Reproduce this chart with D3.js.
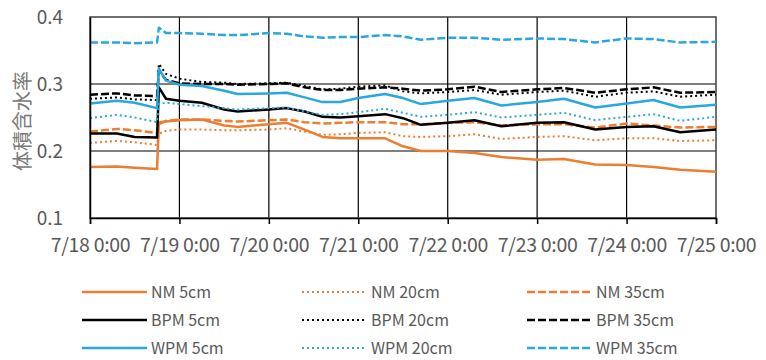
<!DOCTYPE html>
<html>
<head>
<meta charset="utf-8">
<script src="https://cdn.jsdelivr.net/npm/d3@7"></script>
<style>
  body { margin: 0; background: #fff; }
  text { font-family: "Noto Sans CJK JP", "Noto Sans", sans-serif; fill: #595959; }
</style>
</head>
<body>
<div id="chart"></div>
<script>
// days since 7/18 0:00
var days = [0, 0.3, 0.5, 0.75, 0.77, 0.85, 1.0, 1.25, 1.5, 1.65, 2.0, 2.2, 2.4, 2.6, 2.8,
            3.0, 3.3, 3.5, 3.7, 4.0, 4.3, 4.6, 5.0, 5.3, 5.65, 6.0, 6.3, 6.6, 7.0];

var nm5   = [0.176, 0.177, 0.175, 0.173, 0.243, 0.244, 0.246, 0.247, 0.238, 0.236, 0.240, 0.242, 0.232, 0.221, 0.219,
             0.219, 0.219, 0.207, 0.200, 0.200, 0.197, 0.191, 0.187, 0.188, 0.180, 0.179, 0.176, 0.172, 0.169];
var nm20  = [0.212, 0.215, 0.213, 0.209, 0.226, 0.230, 0.232, 0.232, 0.231, 0.231, 0.232, 0.234, 0.229, 0.224, 0.225,
             0.227, 0.228, 0.222, 0.221, 0.222, 0.225, 0.218, 0.221, 0.222, 0.216, 0.219, 0.219, 0.215, 0.216];
var nm35  = [0.229, 0.233, 0.231, 0.227, 0.240, 0.245, 0.247, 0.247, 0.245, 0.244, 0.246, 0.247, 0.243, 0.241, 0.242,
             0.243, 0.243, 0.240, 0.240, 0.242, 0.243, 0.238, 0.240, 0.240, 0.235, 0.241, 0.238, 0.235, 0.236];
var bpm5  = [0.226, 0.226, 0.221, 0.220, 0.295, 0.278, 0.275, 0.272, 0.262, 0.259, 0.262, 0.264, 0.259, 0.251, 0.250,
             0.252, 0.255, 0.249, 0.239, 0.242, 0.246, 0.237, 0.242, 0.243, 0.232, 0.236, 0.237, 0.228, 0.232];
var bpm20 = [0.278, 0.280, 0.277, 0.276, 0.330, 0.315, 0.308, 0.303, 0.302, 0.300, 0.301, 0.302, 0.297, 0.292, 0.293,
             0.296, 0.298, 0.289, 0.286, 0.288, 0.291, 0.284, 0.288, 0.290, 0.281, 0.287, 0.289, 0.281, 0.284];
var bpm35 = [0.284, 0.286, 0.283, 0.282, 0.320, 0.306, 0.301, 0.300, 0.300, 0.299, 0.300, 0.301, 0.295, 0.291, 0.291,
             0.293, 0.295, 0.293, 0.290, 0.292, 0.296, 0.288, 0.292, 0.294, 0.287, 0.292, 0.295, 0.287, 0.288];
var wpm5  = [0.271, 0.275, 0.272, 0.264, 0.323, 0.305, 0.299, 0.297, 0.290, 0.285, 0.286, 0.287, 0.280, 0.273, 0.273,
             0.279, 0.285, 0.279, 0.270, 0.275, 0.279, 0.268, 0.273, 0.278, 0.265, 0.271, 0.276, 0.265, 0.269];
var wpm20 = [0.249, 0.254, 0.250, 0.243, 0.270, 0.272, 0.270, 0.267, 0.264, 0.262, 0.264, 0.265, 0.259, 0.254, 0.255,
             0.258, 0.263, 0.257, 0.251, 0.254, 0.258, 0.250, 0.254, 0.257, 0.246, 0.251, 0.255, 0.245, 0.251];
var wpm35 = [0.362, 0.362, 0.361, 0.362, 0.384, 0.376, 0.376, 0.375, 0.373, 0.373, 0.376, 0.375, 0.371, 0.369, 0.370,
             0.370, 0.373, 0.371, 0.366, 0.369, 0.369, 0.366, 0.368, 0.367, 0.362, 0.368, 0.367, 0.362, 0.363];

var seriesNames = ["NM 5cm", "NM 20cm", "NM 35cm", "BPM 5cm", "BPM 20cm", "BPM 35cm", "WPM 5cm", "WPM 20cm", "WPM 35cm"];
var seriesValues = [nm5, nm20, nm35, bpm5, bpm20, bpm35, wpm5, wpm20, wpm35];
var yTicks = [0.1, 0.2, 0.3, 0.4];

var colors = ["#ED7D31", "#ED7D31", "#ED7D31", "#000000", "#000000", "#000000", "#29A8E0", "#29A8E0", "#29A8E0"];
// solid / dotted / dashed per depth
var styles = [
    { width: 2.5, dash: null },
    { width: 2, dash: "2,3" },
    { width: 2.5, dash: "8,3" }
];

var svgWidth = 766;
var svgHeight = 360;

var margin = { top: 17, right: 50, bottom: 142, left: 90 };
var chartWidth = svgWidth - margin.left - margin.right;
var chartHeight = svgHeight - margin.top - margin.bottom;

var svg = d3.select("#chart")
    .append("svg")
    .attr("width", svgWidth)
    .attr("height", svgHeight);

var chartGroup = svg.append("g")
    .attr("transform", `translate(${margin.left}, ${margin.top})`);

var start = new Date(2020, 6, 18);
var toDate = d => new Date(start.getTime() + d * 86400000);

var xTimeScale = d3.scaleTime()
    .domain([start, toDate(7)])
    .range([0, chartWidth]);

var yLinearScale = d3.scaleLinear()
    .domain([0.1, 0.4])
    .range([chartHeight, 0]);

// gridlines
chartGroup.selectAll(".hgrid")
    .data(yTicks.slice(1, 3))
    .enter()
    .append("line")
    .attr("x1", 0)
    .attr("x2", chartWidth)
    .attr("y1", d => yLinearScale(d))
    .attr("y2", d => yLinearScale(d))
    .attr("stroke", "#000")
    .attr("stroke-width", 1.2);

var dayTicks = d3.range(0, 8).map(toDate);

chartGroup.selectAll(".vgrid")
    .data(dayTicks.slice(1, 7))
    .enter()
    .append("line")
    .attr("x1", d => xTimeScale(d))
    .attr("x2", d => xTimeScale(d))
    .attr("y1", 0)
    .attr("y2", chartHeight)
    .attr("stroke", "#000")
    .attr("stroke-width", 1.2);

// plot border
chartGroup.append("rect")
    .attr("x", 0)
    .attr("y", 0)
    .attr("width", chartWidth)
    .attr("height", chartHeight)
    .attr("fill", "none")
    .attr("stroke", "#404040")
    .attr("stroke-width", 1.5);

// lines
var line = d3.line()
    .x((d, i) => xTimeScale(toDate(days[i])))
    .y(d => yLinearScale(d));

seriesValues.forEach(function(vals, i) {
    var st = styles[i % 3];
    chartGroup.append("path")
      .datum(vals)
      .attr("d", line)
      .attr("fill", "none")
      .attr("stroke", colors[i])
      .attr("stroke-width", st.width)
      .attr("stroke-dasharray", st.dash)
      .attr("stroke-linejoin", "round");
});

// axes
var bottomAxis = d3.axisBottom(xTimeScale)
    .tickValues(dayTicks)
    .tickSize(6)
    .tickFormat(d3.timeFormat("%-m/%-d %-H:%M"));

var xAxisGroup = chartGroup.append("g")
    .attr("transform", `translate(0, ${chartHeight})`)
    .call(bottomAxis);
xAxisGroup.select(".domain").attr("stroke", "#000").attr("stroke-width", 1.5);
xAxisGroup.selectAll(".tick line").attr("stroke", "#000").attr("stroke-width", 1.5);
xAxisGroup.selectAll(".tick text")
    .attr("y", 20)
    .style("font-size", "19.5px")
    .style("letter-spacing", "-0.3px")
    .attr("fill", "#595959");

var leftAxis = d3.axisLeft(yLinearScale)
    .tickValues(yTicks)
    .tickSize(0)
    .tickPadding(27)
    .tickFormat(d3.format(".1f"));

var yAxisGroup = chartGroup.append("g").call(leftAxis);
yAxisGroup.select(".domain").attr("stroke", "#000").attr("stroke-width", 1.5);
yAxisGroup.selectAll(".tick text")
    .style("font-size", "19px")
    .attr("fill", "#595959");

svg.append("text")
    .attr("transform", `translate(30, 121) rotate(-90)`)
    .attr("text-anchor", "middle")
    .style("font-size", "20px")
    .style("fill", "#7a7a7a")
    .text("体積含水率");

// legend
var legendCols = [82, 302, 527];
var legendRows = [292, 320, 348];

seriesNames.forEach(function(name, i) {
    var col = i % 3;
    var row = Math.floor(i / 3);
    var st = styles[col];
    var g = svg.append("g")
      .attr("transform", `translate(${legendCols[col]}, ${legendRows[row]})`);
    g.append("line")
      .attr("x1", 0)
      .attr("x2", 65)
      .attr("y1", 0)
      .attr("y2", 0)
      .attr("stroke", colors[i])
      .attr("stroke-width", st.width)
      .attr("stroke-dasharray", st.dash);
    g.append("text")
      .attr("x", 69)
      .attr("y", 0)
      .attr("dy", "0.35em")
      .style("font-size", "16px")
      .text(name);
});
</script>
</body>
</html>
